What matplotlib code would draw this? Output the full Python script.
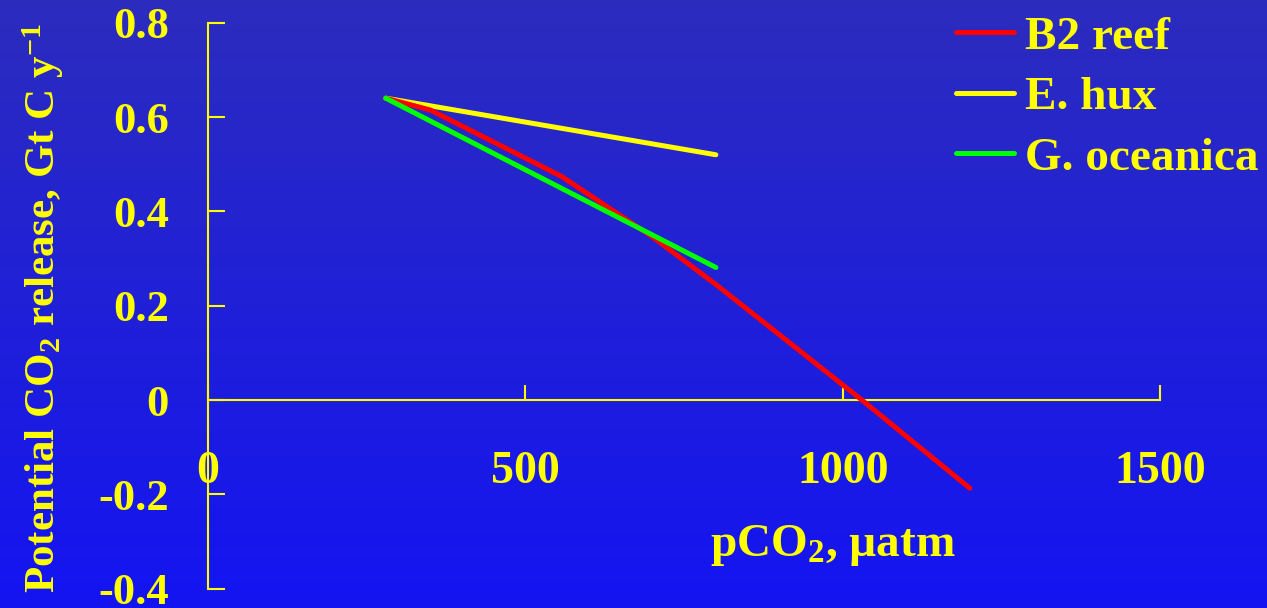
import numpy as np
import matplotlib
matplotlib.use("Agg")
import matplotlib.pyplot as plt

plt.rcParams['font.family'] = ['Liberation Serif', 'DejaVu Serif']
plt.rcParams['font.weight'] = 'bold'
plt.rcParams['mathtext.fontset'] = 'custom'
plt.rcParams['mathtext.rm'] = 'Liberation Serif:bold'
plt.rcParams['mathtext.it'] = 'Liberation Serif:bold'
plt.rcParams['mathtext.bf'] = 'Liberation Serif:bold'

# values
b2_x = [280, 350, 557, 700, 800, 1030, 1200]
b2_y = [0.640, 0.615, 0.474, 0.346, 0.245, 0.0, -0.187]
ehux_x = [280, 800]
ehux_y = [0.640, 0.520]
goce_x = [280, 800]
goce_y = [0.640, 0.281]

x_ticks = [0, 500, 1000, 1500]
y_ticks = [-0.4, -0.2, 0, 0.2, 0.4, 0.6, 0.8]
y_tick_labels = ['-0.4', '-0.2', '0', '0.2', '0.4', '0.6', '0.8']

yellow = '#FFFF00'

fig = plt.figure(figsize=(12.67, 6.08), dpi=100)

# background gradient, darker navy at top to bright blue at bottom
bg = fig.add_axes([0, 0, 1, 1], zorder=-10)
top_c = np.array([44, 44, 190]) / 255.0
bot_c = np.array([20, 20, 242]) / 255.0
t = np.linspace(0, 1, 256)[:, None]
grad = (1 - t) * top_c + t * bot_c
bg.imshow(grad[:, None, :], aspect='auto', extent=[0, 1, 0, 1])
bg.axis('off')

ax = fig.add_axes([0.16417, 0.03174, 0.75162, 0.93092])
ax.patch.set_alpha(0)

ax.plot(b2_x, b2_y, color='#FF0000', lw=3.6, solid_capstyle='round',
        solid_joinstyle='round', label='B2 reef', zorder=3)
ax.plot(ehux_x, ehux_y, color=yellow, lw=3.6, solid_capstyle='round',
        label='E. hux', zorder=2)
ax.plot(goce_x, goce_y, color='#00FF00', lw=3.6, solid_capstyle='round',
        label='G. oceanica', zorder=4)

ax.set_xlim(0, 1500)
ax.set_ylim(-0.4, 0.8)

for s in ['top', 'right']:
    ax.spines[s].set_visible(False)
ax.spines['bottom'].set_position(('data', 0))
for s in ['left', 'bottom']:
    ax.spines[s].set_color(yellow)
    ax.spines[s].set_linewidth(1.5)

ax.set_xticks(x_ticks)
ax.set_yticks(y_ticks)
ax.set_yticklabels(y_tick_labels)
ax.tick_params(axis='y', direction='in', length=12, width=1.5, color=yellow,
               labelcolor=yellow, labelsize=32, pad=28)
ax.tick_params(axis='x', direction='in', length=11, width=1.5, color=yellow,
               labelcolor=yellow, labelsize=33, pad=37)

fig.text(0.034, 0.494, r'Potential CO$_2$ release, Gt C y$^{-1}$', rotation=90,
         color=yellow, fontsize=31, ha='center', va='center')
fig.text(0.657, 0.103, r'pCO$_2$, µatm', color=yellow, fontsize=34,
         ha='center', va='center')

leg = ax.legend(loc='upper left', bbox_to_anchor=(0.7545, 0.974),
                bbox_transform=fig.transFigure, frameon=False, fontsize=34,
                handlelength=1.23, handletextpad=0.23, labelspacing=0.37,
                borderpad=0.0, borderaxespad=0.0)
for txt in leg.get_texts():
    txt.set_color(yellow)

fig.savefig('out.png', dpi=100)
